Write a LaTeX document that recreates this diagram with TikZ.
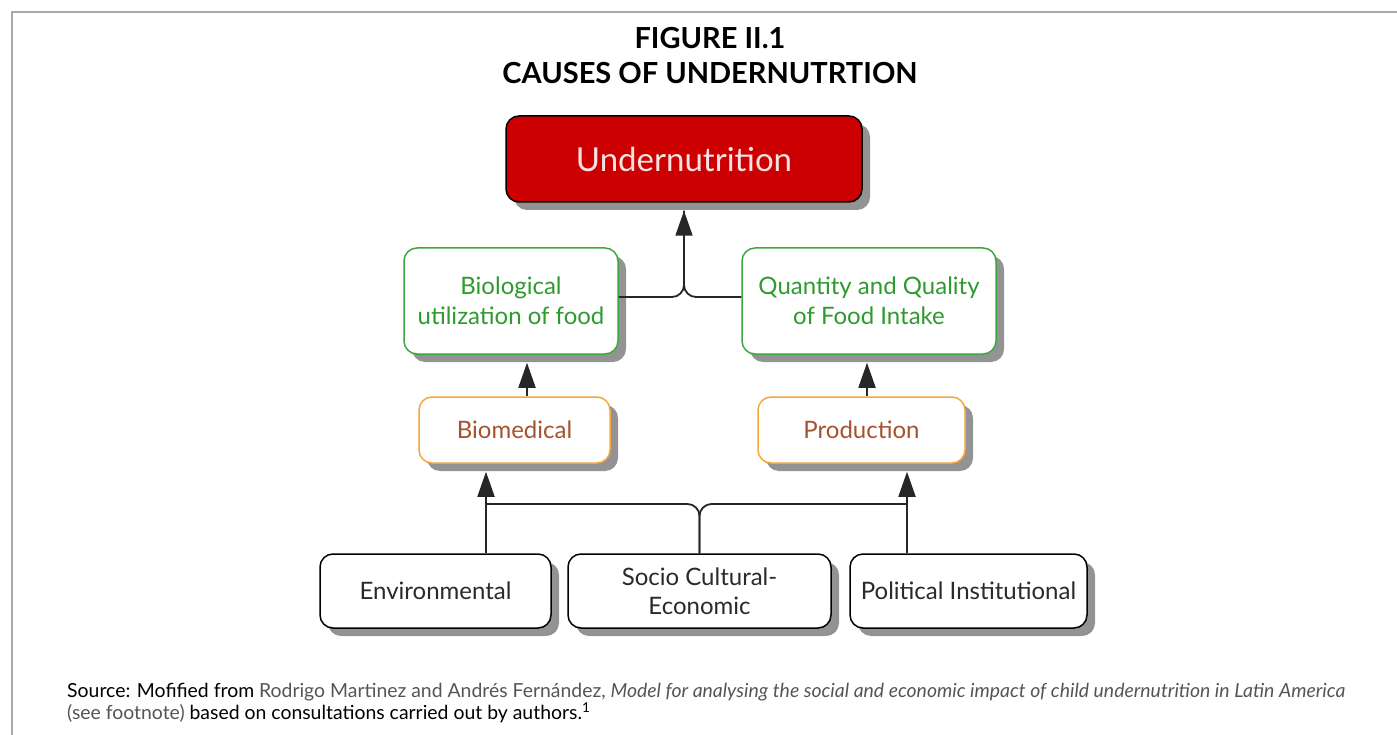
\documentclass[tikz,border=0pt]{standalone}
\usepackage{fontspec}
\setmainfont{Lato}
\usetikzlibrary{arrows.meta,shadows}
\definecolor{redfill}{HTML}{CC0000}
\definecolor{redtext}{HTML}{F6E2E2}
\definecolor{greenline}{HTML}{3FA63F}
\definecolor{greentext}{HTML}{2F9A2F}
\definecolor{orangeline}{HTML}{F7A73A}
\definecolor{browntext}{HTML}{A5532E}
\definecolor{darktext}{HTML}{2A2A2A}
\definecolor{srcgray}{HTML}{555555}
\definecolor{framegray}{HTML}{A8A8A8}
\begin{document}
\begin{tikzpicture}[x=1pt,y=-1pt,
  box/.style={draw,rounded corners=13pt,line width=1.5pt,fill=white,align=center,inner sep=0pt,
    drop shadow={shadow xshift=8pt,shadow yshift=-8pt,fill=black!50,opacity=0.85}},
  topbox/.style={box,fill=redfill,draw=black,text=redtext,font=\fontsize{33}{38}\selectfont},
  greenbox/.style={box,draw=greenline,text=greentext,font=\fontsize{24}{30}\selectfont},
  orangebox/.style={box,draw=orangeline,text=browntext,font=\fontsize{24}{29}\selectfont},
  basebox/.style={box,draw=black,text=darktext,font=\fontsize{24}{29}\selectfont},
  conn/.style={draw=black!85,line width=1.8pt},
  arr/.style={-{Triangle[length=25pt,width=17pt]},shorten >=8pt},
  titletext/.style={font=\bfseries\fontsize{29}{33}\selectfont,text=black}
]
\useasboundingbox (0,0) rectangle (1397,735);
% frame
\draw[framegray,line width=2pt] (12,735) -- (12,12) -- (1397,12);

% titles
\node[titletext] (t1) at (710,38) {FIGURE II.1};
\node[titletext] (t2) at (710,73) {CAUSES OF UNDERNUTRTION};

% boxes
\node[topbox,minimum width=356pt,minimum height=86pt] (und) at (684,159) {Undernutrition};
\node[greenbox,minimum width=214pt,minimum height=106pt] (bio) at (511,301) {Biological\\utilization of food};
\node[greenbox,minimum width=254pt,minimum height=106pt] (qty) at (869,301) {Quantity and Quality\\of Food Intake};
\node[orangebox,minimum width=191pt,minimum height=66pt] (biomed) at (514.5,430) {Biomedical};
\node[orangebox,minimum width=207pt,minimum height=66pt] (prod) at (861.5,430) {Production};
\node[basebox,minimum width=231pt,minimum height=74pt] (env) at (435.5,591) {Environmental};
\node[basebox,minimum width=263pt,minimum height=74pt] (soc) at (699.5,591) {Socio Cultural-\\Economic};
\node[basebox,minimum width=237pt,minimum height=74pt] (pol) at (968.5,591) {Political Institutional};

% helper coordinates
\coordinate (c1) at (527,0);
\coordinate (c2) at (867,0);
\coordinate (la) at (486,504);
\coordinate (ra) at (907,504);

% connectors: top junction
\draw[conn,rounded corners=12pt,arr] ([yshift=4pt]bio.east) -| (und.south);
\draw[conn,rounded corners=12pt,shorten >=8pt] ([yshift=4pt]qty.west) -| (und.south);

% middle arrows
\draw[conn,arr] (biomed.north -| c1) -- (bio.south -| c1);
\draw[conn,arr] (prod.north -| c2) -- (qty.south -| c2);

% bottom
\draw[conn,arr] (env.north -| la) -- (biomed.south -| la);
\draw[conn,arr] (pol.north -| ra) -- (prod.south -| ra);
\draw[conn,rounded corners=12pt] (soc.north) |- (la);
\draw[conn,rounded corners=12pt] (soc.north) |- (ra);

% source note
\node[anchor=north west,align=left,inner sep=0pt,font=\fontsize{19.4}{22.5}\selectfont,text=black] (src) at (67,683)
 {Source: Mofified from \textcolor{srcgray}{Rodrigo Martinez and Andrés Fernández,} \textcolor{srcgray}{\itshape Model for analysing the social and economic impact of child undernutrition in Latin America}\\
  \textcolor{srcgray}{(see footnote)} based on consultations carried out by authors.\textsuperscript{1}};
\end{tikzpicture}
\end{document}
